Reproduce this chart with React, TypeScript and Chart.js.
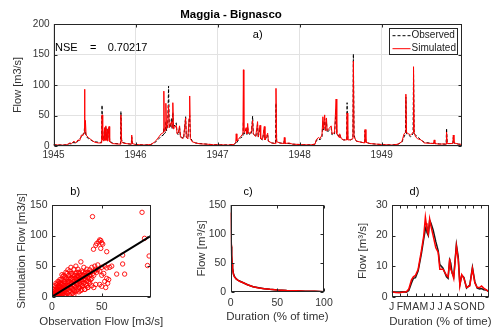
import React, { useEffect, useRef } from 'react';
import { Chart, registerables } from 'chart.js';

Chart.register(...registerables);

const FONT_FAMILY = "'Liberation Sans', Arial, Helvetica, sans-serif";
const AXIS_COLOR = '#262626';
const TICK_COLOR = '#333333';
const GRID_COLOR = '#e2e2e2';

// ---------- a) daily hydrograph ----------
const flowDates = [
  '1945-01-01', '1945-01-20', '1945-02-10', '1945-03-01', '1945-03-15', '1945-03-22', '1945-04-02', '1945-04-10',
  '1945-04-20', '1945-04-28', '1945-05-05', '1945-05-12', '1945-05-17', '1945-05-19', '1945-05-21', '1945-05-23',
  '1945-05-26', '1945-06-05', '1945-06-15', '1945-06-25', '1945-07-05', '1945-07-20', '1945-08-03', '1945-08-05',
  '1945-08-08', '1945-08-12', '1945-08-16', '1945-08-18', '1945-08-22', '1945-08-24', '1945-08-28', '1945-08-30',
  '1945-09-05', '1945-09-08', '1945-09-20', '1945-10-05', '1945-10-26', '1945-10-28', '1945-10-31', '1945-11-05',
  '1945-11-20', '1945-12-13', '1945-12-15', '1945-12-18', '1945-12-31',
  '1946-01-20', '1946-02-15', '1946-03-10', '1946-03-25', '1946-04-05', '1946-04-15', '1946-04-25', '1946-05-05',
  '1946-05-07', '1946-05-09', '1946-05-14', '1946-05-16', '1946-05-19', '1946-05-24', '1946-05-28', '1946-05-31',
  '1946-06-05', '1946-06-10', '1946-06-13', '1946-06-16', '1946-06-19', '1946-06-25', '1946-07-01', '1946-07-05',
  '1946-07-10', '1946-07-16', '1946-07-20', '1946-07-28', '1946-08-03', '1946-08-12', '1946-08-15', '1946-08-22',
  '1946-08-27', '1946-08-30', '1946-09-02', '1946-09-10', '1946-09-25', '1946-10-15', '1946-11-15', '1946-12-15',
  '1947-01-15', '1947-02-15', '1947-03-15', '1947-03-23', '1947-03-25', '1947-03-28', '1947-04-05', '1947-04-15',
  '1947-04-24', '1947-04-26', '1947-04-28', '1947-05-01', '1947-05-08', '1947-05-12', '1947-05-15', '1947-05-18',
  '1947-05-25', '1947-06-01', '1947-06-06', '1947-06-09', '1947-06-15', '1947-06-20', '1947-06-28', '1947-07-01',
  '1947-07-09', '1947-07-12', '1947-07-20', '1947-07-28', '1947-07-31', '1947-08-12', '1947-08-15', '1947-08-30',
  '1947-09-16', '1947-09-18', '1947-09-21', '1947-10-05', '1947-10-23', '1947-10-25', '1947-10-28', '1947-11-15',
  '1947-12-01', '1947-12-31',
  '1948-01-20', '1948-02-20', '1948-03-10', '1948-03-15', '1948-03-25', '1948-04-01', '1948-04-10', '1948-04-14',
  '1948-04-17', '1948-04-22', '1948-04-25', '1948-04-30', '1948-05-03', '1948-05-10', '1948-05-21', '1948-05-25',
  '1948-06-05', '1948-06-12', '1948-06-15', '1948-06-25', '1948-06-28', '1948-07-05', '1948-07-15', '1948-07-29',
  '1948-07-31', '1948-08-03', '1948-08-15', '1948-08-26', '1948-08-28', '1948-08-31', '1948-09-03', '1948-09-10',
  '1948-10-17', '1948-10-19', '1948-10-23', '1948-11-10', '1948-12-10', '1948-12-31',
  '1949-01-20', '1949-02-20', '1949-03-15', '1949-04-01', '1949-04-11', '1949-04-17', '1949-04-19', '1949-04-22',
  '1949-05-01', '1949-05-10', '1949-05-21', '1949-05-23', '1949-05-26', '1949-06-01', '1949-06-10', '1949-06-25',
  '1949-07-10', '1949-08-20', '1949-08-23', '1949-08-26', '1949-09-15', '1949-10-05', '1949-10-15', '1949-10-17',
  '1949-10-20', '1949-11-14', '1949-11-16', '1949-11-19', '1949-12-10', '1949-12-31',
];
const observedFlow = [
  2, 1.8, 1.6, 2, 4, 3, 6, 4, 8, 12, 15, 20, 20, 30, 22, 24,
  16, 12, 10, 8, 7, 6, 6, 67, 12, 10, 28, 10, 32, 10, 26, 9,
  30, 8, 5, 4, 3.5, 57, 10, 6, 4, 3, 15, 4, 2.5,
  2, 1.8, 2.5, 5, 8, 12, 16, 18, 30, 20, 22, 40, 25, 30, 98, 35,
  30, 45, 28, 55, 30, 35, 38, 22, 18, 30, 15, 14, 12, 48, 15, 12,
  40, 50, 15, 8, 5, 4, 3, 2.2,
  2, 1.7, 2.5, 5, 8, 6, 10, 14, 15, 40, 20, 20, 28, 18, 30, 22,
  18, 22, 49, 20, 18, 15, 35, 14, 30, 12, 10, 28, 10, 18, 8, 5,
  4, 70, 8, 5, 4, 10, 4, 4, 3, 2.5,
  2, 2, 3, 8, 12, 10, 15, 40, 25, 45, 25, 40, 22, 25, 30, 18,
  20, 60, 22, 15, 18, 12, 10, 10, 71, 12, 10, 12, 151, 20, 14, 8,
  5, 25, 6, 4, 3, 2.5,
  2, 1.8, 3, 6, 15, 20, 80, 20, 18, 15, 20, 125, 20, 18, 15, 10,
  6, 4, 8, 4, 3.5, 3, 3, 29, 4, 4, 14, 5, 3, 2.5,
];
const simulatedFlow = [
  2, 1.7, 1.5, 2, 5, 4, 8, 5, 10, 9, 18, 17, 22, 93, 25, 42,
  18, 14, 11, 8, 6, 5, 5, 51, 10, 8, 30, 9, 33, 9, 28, 8,
  32, 7, 4, 3.5, 3, 51, 8, 5, 4, 3, 18, 4, 2.5,
  2, 1.6, 2.5, 6, 10, 15, 20, 22, 90, 25, 25, 70, 28, 35, 67, 30,
  35, 40, 30, 71, 28, 30, 34, 20, 22, 33, 15, 12, 14, 46, 14, 12,
  45, 82, 12, 7, 5, 3.5, 3, 2,
  2, 1.5, 2.5, 6, 20, 8, 12, 16, 20, 125, 25, 22, 30, 20, 37, 24,
  20, 25, 42, 20, 17, 16, 40, 15, 34, 12, 11, 32, 10, 21, 8, 5,
  4, 94.5, 7, 5, 4, 14, 4, 5, 3, 2.5,
  2, 1.8, 3, 10, 14, 12, 18, 48, 28, 51, 25, 46, 25, 28, 33, 20,
  22, 77, 20, 14, 20, 12, 10, 10, 54, 10, 10, 12, 139, 15, 15, 8,
  5, 27, 6, 4, 3, 2.5,
  2, 1.6, 3, 7, 20, 22, 85, 22, 20, 18, 22, 130, 22, 15, 12, 10,
  5, 4, 10, 4, 3, 3.5, 3, 23, 4, 4, 18, 5, 3, 2.5,
];
const nseValue = '0.70217';
const yearTicks = [1945, 1946, 1947, 1948, 1949];
const flowTicks = [0, 50, 100, 150, 200];

// ---------- b) scatter ----------
const scatterObs = [
  0.5, 1, 1.5, 2, 2, 3, 3, 4, 4, 5, 5, 5, 6, 6, 7, 7, 7, 8, 8, 8, 9, 9, 10, 10, 10, 11, 11, 12, 12, 12,
  13, 13, 14, 14, 15, 15, 15, 16, 16, 17, 17, 18, 18, 18, 19, 19, 20, 20, 20, 21, 21, 22, 22, 23, 23, 23,
  24, 24, 25, 25, 25, 26, 26, 27, 27, 28, 28, 29, 30, 30, 31, 31, 32, 32, 33, 33, 34, 34, 35, 35, 36, 36,
  37, 38, 38, 40, 40, 42, 45, 3, 4, 6, 9, 11, 14, 16, 19, 24, 2, 1, 6, 10, 13, 17, 21, 26, 29, 34, 37,
  1, 2, 2, 3, 3, 4, 4, 5, 5, 6, 6, 7, 7, 8, 8, 8, 9, 9, 10, 10, 11, 11, 12, 12, 13, 13, 14, 14, 15, 15,
  16, 16, 17, 17, 18, 18, 19, 19, 20, 20, 21, 21, 22, 22, 23, 23, 24, 24, 25, 25, 26, 26, 27, 27, 28, 28,
  29, 29, 30, 30, 31, 31, 32, 32, 33, 34, 35, 36, 37, 38, 39, 41, 43, 44, 46, 39, 35, 30, 27, 22, 18, 14,
  3, 2, 4, 5, 7, 8, 12, 10,
  40.7, 90.5, 93, 97.6, 96, 71, 71, 73, 65, 55, 41.7, 45, 47, 49, 50, 44, 48, 51, 49, 43, 46, 50, 53, 55,
  58, 60, 50, 52, 55, 57, 48, 53, 56, 50, 54, 48, 42, 44, 40, 33, 36, 29,
];
const scatterSim = [
  1, 0.5, 2, 1, 3, 1.5, 5, 2, 8, 3, 10, 15, 4, 12, 2, 8, 18, 5, 12, 22, 3, 15, 8, 20, 28, 5, 14, 10, 25, 2,
  18, 32, 8, 22, 12, 28, 38, 5, 18, 25, 35, 10, 20, 42, 15, 30, 5, 22, 38, 12, 28, 18, 45, 8, 25, 35,
  15, 30, 20, 40, 10, 28, 45, 15, 32, 22, 38, 10, 25, 42, 18, 35, 28, 48, 12, 30, 20, 40, 25, 45, 15, 32,
  38, 22, 44, 30, 48, 35, 40, 18, 22, 25, 24, 33, 40, 44, 48, 50, 8, 4, 1, 1, 4, 8, 6, 12, 20, 28, 25,
  2, 2, 5, 3, 7, 4, 12, 6, 1, 7, 16, 5, 11, 9, 2, 16, 10, 20, 12, 4, 10, 22, 14, 18, 12, 25, 15, 30, 18, 6,
  12, 25, 18, 30, 15, 28, 22, 38, 14, 30, 20, 35, 25, 10, 30, 18, 22, 38, 28, 33, 20, 35, 25, 40, 30, 15,
  28, 35, 32, 18, 28, 40, 35, 22, 38, 33, 35, 40, 30, 35, 40, 38, 42, 45, 44, 28, 18, 12, 8, 3, 2, 1,
  10, 12, 16, 20, 24, 28, 35, 36,
  131, 138, 95.5, 66.6, 51, 53.5, 68, 37, 37, 73.6, 77.6, 87, 90, 92, 88, 84, 93, 86, 79, 50, 52, 48, 50, 47,
  48, 50, 35, 38, 30, 28, 42, 25, 22, 17, 15, 20, 15, 20, 18, 12, 15, 57,
];
const oneToOneLine = [0, 99];
const scatterXTicks = [0, 50];
const scatterYTicks = [0, 50, 100, 150];

// ---------- c) flow duration curve ----------
const durationPct = [0, 0.3, 0.7, 1, 1.5, 2, 3, 4, 6, 8, 10, 13.5, 18, 24, 30, 36, 42, 50, 60, 70, 80, 90, 100];
const fdcObserved = [151, 105, 78, 63, 50, 41, 31, 27, 22.5, 20, 18.5, 16, 12.5, 9.2, 7.2, 5.8, 4.7, 3.6, 2.6, 2, 1.5, 1.1, 0.6];
const fdcSimulated = [137, 110, 80, 65, 50, 40, 30, 26, 22, 20, 18, 16, 12.5, 9, 7, 5.7, 4.6, 3.5, 2.5, 2, 1.5, 1.1, 0.5];
const durationTicks = [0, 50, 100];
const fdcFlowTicks = [0, 50, 100, 150];

// ---------- d) mean annual regime ----------
const regimeDay = [
  1, 15, 30, 45, 56, 65, 75, 82, 90, 100, 112, 121, 127, 130, 133, 138, 143, 148, 156, 166, 175, 181,
  193, 206, 212, 218, 222, 227, 233, 243, 250, 256, 263, 271, 281, 293, 303, 312, 321, 330, 337, 345, 355, 365,
];
const regimeObserved = [
  1.6, 1.5, 1.5, 1.6, 1.5, 2.0, 4.5, 6, 6.2, 8.5, 14, 19, 22, 23, 21, 20, 25, 24, 21.8, 18, 15, 10.5,
  9.3, 6.5, 6, 12, 11, 7.7, 6.5, 17, 13, 4, 7, 6.3, 2.8, 3.8, 9.6, 4.9, 2.8, 2.5, 2.7, 2.3, 2.2, 1.6,
];
const regimeSimulated = [
  1.6, 1.4, 1.3, 1.5, 1.6, 2.5, 5.5, 6.5, 7, 9, 15, 20, 26, 24, 22, 20.5, 25.4, 23, 20, 16, 14.5, 9,
  9, 7, 6.5, 12.5, 9, 8, 6, 16.5, 12, 3.6, 7.2, 6, 3, 3.5, 9.2, 4.5, 3, 3, 3.5, 2.8, 2.2, 1.6,
];
const monthStartDays = [1, 32, 60, 91, 121, 152, 182, 213, 244, 274, 305, 335];
const monthLabels = ['J', 'F', 'M', 'A', 'M', 'J', 'J', 'A', 'S', 'O', 'N', 'D'];
const regimeTicks = [0, 10, 20, 30];

// ---------- helpers ----------
function decimalYear(s: string): number {
  const [y, m, d] = s.split('-').map(Number);
  const doy = (Date.UTC(y, m - 1, d) - Date.UTC(y, 0, 1)) / 86400000;
  const len = (y % 4 === 0 && (y % 100 !== 0 || y % 400 === 0)) ? 366 : 365;
  return y + doy / len;
}
const toPoints = (xs: number[], ys: number[]) => xs.map((x, i) => ({ x, y: ys[i] }));
const setTicks = (values: number[]) => (scale: any) => {
  scale.ticks = values.map((v) => ({ value: v }));
};
const fixWidth = (w: number) => (scale: any) => {
  scale.width = w;
  scale.paddingTop = 0; scale.paddingBottom = 0; scale.paddingLeft = 0; scale.paddingRight = 0;
};
const fixHeight = (h: number) => (scale: any) => {
  scale.height = h;
  scale.paddingTop = 0; scale.paddingBottom = 0; scale.paddingLeft = 0; scale.paddingRight = 0;
};
const font = (size: number, weight: any = 'normal') => ({ family: FONT_FAMILY, size, weight, lineHeight: 1.2 });

const boxPlugin = {
  id: 'matlabBox',
  afterDatasetsDraw(chart: any) {
    const { ctx, chartArea } = chart;
    const l = Math.round(chartArea.left) + 0.5;
    const t = Math.round(chartArea.top) + 0.5;
    const r = Math.round(chartArea.right) - 0.5;
    const b = Math.round(chartArea.bottom) - 0.5;
    ctx.save();
    ctx.strokeStyle = AXIS_COLOR;
    ctx.lineWidth = 1;
    ctx.strokeRect(l, t, r - l, b - t);
    const tl = 3;
    ctx.beginPath();
    const xs = chart.scales.x;
    xs.ticks.forEach((tk: any) => {
      const px = Math.round(xs.getPixelForValue(tk.value)) + 0.5;
      ctx.moveTo(px, b); ctx.lineTo(px, b - tl);
      ctx.moveTo(px, t); ctx.lineTo(px, t + tl);
    });
    const ys = chart.scales.y;
    ys.ticks.forEach((tk: any) => {
      const py = Math.round(ys.getPixelForValue(tk.value)) + 0.5;
      ctx.moveTo(l, py); ctx.lineTo(l + tl, py);
      ctx.moveTo(r, py); ctx.lineTo(r - tl, py);
    });
    ctx.stroke();
    ctx.restore();
  },
};

// x-axis label drawn without Chart.js' width squeezing (the label is wider than the small plot)
const xLabel = (text: string, centerY: number) => ({
  id: 'xLabel',
  afterDraw(chart: any) {
    const { ctx, chartArea } = chart;
    ctx.save();
    ctx.fillStyle = TICK_COLOR;
    ctx.font = `11.5px ${FONT_FAMILY}`;
    ctx.textAlign = 'center';
    ctx.textBaseline = 'middle';
    ctx.fillText(text, (chartArea.left + chartArea.right) / 2, centerY);
    ctx.restore();
  },
});

const topAnnotations = {
  id: 'topAnnotations',
  afterDraw(chart: any) {
    const { ctx, chartArea } = chart;
    ctx.save();
    ctx.fillStyle = '#000';
    ctx.textBaseline = 'middle';
    ctx.font = `11px ${FONT_FAMILY}`;
    ctx.textAlign = 'center';
    ctx.fillText('a)', (chartArea.left + chartArea.right) / 2, chartArea.top + 10.7);
    ctx.textAlign = 'left';
    const ny = chartArea.top + 24.3;
    ctx.fillText('NSE', chartArea.left + 1.5, ny);
    ctx.fillText('=', chartArea.left + 36.5, ny);
    ctx.fillText(nseValue, chartArea.left + 54.2, ny);

    // legend box
    const x0 = Math.round(chartArea.right) - 72.5;
    const y0 = Math.round(chartArea.top) + 4.5;
    ctx.fillStyle = '#fff';
    ctx.fillRect(x0, y0, 68, 26);
    ctx.strokeStyle = AXIS_COLOR;
    ctx.lineWidth = 1;
    ctx.strokeRect(x0, y0, 68, 26);
    const ds = chart.data.datasets;
    const rows = [ds[0], ds[1]];
    rows.forEach((d: any, i: number) => {
      const ry = y0 + 7.2 + i * 13;
      ctx.beginPath();
      ctx.strokeStyle = d.borderColor;
      ctx.lineWidth = 1;
      ctx.setLineDash(d.borderDash || []);
      ctx.moveTo(x0 + 3, ry);
      ctx.lineTo(x0 + 21, ry);
      ctx.stroke();
      ctx.setLineDash([]);
      ctx.fillStyle = '#1a1a1a';
      ctx.font = `10px ${FONT_FAMILY}`;
      ctx.textAlign = 'left';
      ctx.fillText(d.label, x0 + 22, ry);
    });
    ctx.restore();
  },
};

function axisBase(ticks: number[], width?: number, height?: number) {
  return {
    afterBuildTicks: setTicks(ticks),
    afterFit: width !== undefined ? fixWidth(width) : fixHeight(height as number),
    border: { display: false },
  };
}
const noGrid = { display: false, drawTicks: false };

export default function App() {
  const aRef = useRef<HTMLCanvasElement>(null);
  const bRef = useRef<HTMLCanvasElement>(null);
  const cRef = useRef<HTMLCanvasElement>(null);
  const dRef = useRef<HTMLCanvasElement>(null);

  useEffect(() => {
    const charts: Chart[] = [];
    const years = flowDates.map(decimalYear);

    // a)
    charts.push(new Chart(aRef.current as HTMLCanvasElement, {
      type: 'line',
      data: {
        datasets: [
          { label: 'Observed', data: toPoints(years, observedFlow), borderColor: '#000000', borderWidth: 1, borderDash: [3, 2], pointRadius: 0, order: 1 },
          { label: 'Simulated', data: toPoints(years, simulatedFlow), borderColor: '#ff0000', borderWidth: 1, pointRadius: 0, order: 0 },
        ],
      } as any,
      options: {
        animation: false, responsive: false, events: [],
        layout: { padding: { left: 0, right: 30, top: 0, bottom: 0 } },
        plugins: {
          legend: { display: false }, tooltip: { enabled: false },
          title: { display: true, text: 'Maggia - Bignasco', color: '#000', font: font(11.5, 'bold'), padding: { top: 8, bottom: 2.2 } },
        },
        scales: {
          x: {
            type: 'linear', min: 1945, max: 1949.98,
            ...axisBase(yearTicks, undefined, 24),
            ticks: { callback: (v: any) => String(v), font: font(10), color: TICK_COLOR, padding: 3.5, maxRotation: 0, autoSkip: false },
            grid: { color: GRID_COLOR, drawTicks: false },
          },
          y: {
            type: 'linear', min: 0, max: 200,
            ...axisBase(flowTicks, 53.5),
            ticks: { font: font(10), color: TICK_COLOR, padding: 4 },
            grid: { color: GRID_COLOR, drawTicks: false },
            title: { display: true, text: 'Flow [m3/s]', color: TICK_COLOR, font: font(11), padding: { top: 11.4, bottom: 0 } },
          },
        },
      } as any,
      plugins: [boxPlugin, topAnnotations],
    }));

    // b)
    charts.push(new Chart(bRef.current as HTMLCanvasElement, {
      type: 'scatter',
      data: {
        datasets: [
          { data: oneToOneLine.map((v) => ({ x: v, y: v })), type: 'line', borderColor: '#000000', borderWidth: 2, pointRadius: 0, order: 0 },
          { data: toPoints(scatterObs, scatterSim), borderColor: '#ff0000', backgroundColor: 'rgba(0,0,0,0)', pointRadius: 2.2, borderWidth: 0.9, order: 1 },
        ],
      } as any,
      options: {
        animation: false, responsive: false, events: [],
        layout: { padding: { left: 0, right: 21.5, top: 0, bottom: 0 } },
        plugins: {
          legend: { display: false }, tooltip: { enabled: false },
          title: { display: true, text: 'b)', color: '#000', font: font(11), padding: { top: 5.4, bottom: 6.4 } },
        },
        scales: {
          x: {
            type: 'linear', min: 0, max: 99,
            ...axisBase(scatterXTicks, undefined, 32.3),
            ticks: { font: font(10.5), color: TICK_COLOR, padding: 4.3, maxRotation: 0, autoSkip: false },
            grid: noGrid,
          },
          y: {
            type: 'linear', min: 0, max: 150,
            ...axisBase(scatterYTicks, 52),
            ticks: { font: font(10.5), color: TICK_COLOR, padding: 4.5 },
            grid: noGrid,
            title: { display: true, text: 'Simulation Flow [m3/s]', color: TICK_COLOR, font: font(11.5), padding: { top: 14.8, bottom: 0 } },
          },
        },
      } as any,
      plugins: [boxPlugin, xLabel('Observation Flow [m3/s]', 141.7)],
    }));

    // c)
    charts.push(new Chart(cRef.current as HTMLCanvasElement, {
      type: 'line',
      data: {
        datasets: [
          { label: 'Observed', data: toPoints(durationPct, fdcObserved), borderColor: '#000000', borderWidth: 1.5, pointRadius: 0, order: 1 },
          { label: 'Simulated', data: toPoints(durationPct, fdcSimulated), borderColor: '#ff0000', borderWidth: 1.5, pointRadius: 0, order: 0 },
        ],
      } as any,
      options: {
        animation: false, responsive: false, events: [],
        layout: { padding: { left: 0, right: 16, top: 0, bottom: 0 } },
        plugins: {
          legend: { display: false }, tooltip: { enabled: false },
          title: { display: true, text: 'c)', color: '#000', font: font(11), padding: { top: 5.4, bottom: 6.4 } },
        },
        scales: {
          x: {
            type: 'linear', min: 0, max: 100,
            ...axisBase(durationTicks, undefined, 37),
            ticks: { font: font(10.5), color: TICK_COLOR, padding: 5, maxRotation: 0, autoSkip: false },
            grid: noGrid,
          },
          y: {
            type: 'linear', min: 0, max: 150,
            ...axisBase(fdcFlowTicks, 58.7),
            ticks: { font: font(10.5), color: TICK_COLOR, padding: 4.5 },
            grid: noGrid,
            title: { display: true, text: 'Flow [m\u00b3/s]', color: TICK_COLOR, font: font(11.5), padding: { top: 22.8, bottom: 0 } },
          },
        },
      } as any,
      plugins: [boxPlugin, xLabel('Duration (% of time)', 136.7)],
    }));

    // d)
    charts.push(new Chart(dRef.current as HTMLCanvasElement, {
      type: 'line',
      data: {
        datasets: [
          { label: 'Observed', data: toPoints(regimeDay, regimeObserved), borderColor: '#1a1a1a', borderWidth: 1.5, pointRadius: 0, order: 1 },
          { label: 'Simulated', data: toPoints(regimeDay, regimeSimulated), borderColor: '#ff0000', borderWidth: 1.5, pointRadius: 0, order: 0 },
        ],
      } as any,
      options: {
        animation: false, responsive: false, events: [],
        layout: { padding: { left: 0, right: 3, top: 0, bottom: 0 } },
        plugins: {
          legend: { display: false }, tooltip: { enabled: false },
          title: { display: true, text: 'd)', color: '#000', font: font(11), padding: { top: 5.4, bottom: 6.4 } },
        },
        scales: {
          x: {
            type: 'linear', min: 1, max: 365,
            ...axisBase(monthStartDays, undefined, 32.3),
            ticks: { font: font(10.5), color: TICK_COLOR, padding: 4.3, maxRotation: 0, autoSkip: false, callback: (_v: any, i: number) => monthLabels[i] },
            grid: noGrid,
          },
          y: {
            type: 'linear', min: 0, max: 30,
            ...axisBase(regimeTicks, 51.7),
            ticks: { font: font(10.5), color: TICK_COLOR, padding: 4 },
            grid: noGrid,
            title: { display: true, text: 'Flow [m\u00b3/s]', color: TICK_COLOR, font: font(11.5), padding: { top: 16.4, bottom: 0 } },
          },
        },
      } as any,
      plugins: [boxPlugin, xLabel('Duration (% of time)', 141.7)],
    }));

    return () => { charts.forEach((c) => c.destroy()); };
  }, []);

  const cv = (left: number, top: number, width: number, height: number) => ({
    position: 'absolute' as const, left, top, width, height, display: 'block',
  });

  return (
    <div style={{ position: 'fixed', left: 0, top: 0, width: 492, height: 329, background: '#ffffff', overflow: 'hidden' }}>
      <canvas ref={aRef} width={492} height={170} style={cv(0, 0, 492, 170)} />
      <canvas ref={bRef} width={172} height={149} style={cv(0, 180, 172, 149)} />
      <canvas ref={cRef} width={168} height={149} style={cv(172, 180, 168, 149)} />
      <canvas ref={dRef} width={152} height={149} style={cv(340, 180, 152, 149)} />
    </div>
  );
}
